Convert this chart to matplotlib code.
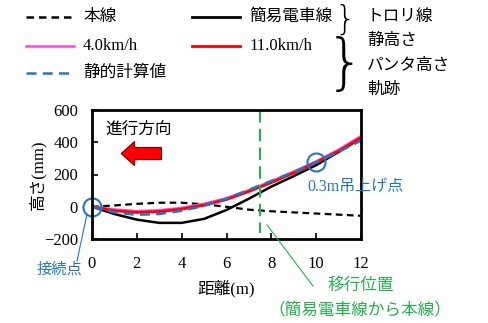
import matplotlib.pyplot as plt
from matplotlib.patches import FancyArrow

plt.rcParams['font.family'] = ['Liberation Serif', 'Noto Sans CJK JP']

dist = [0, 1, 2, 3, 4, 5, 6, 7, 8, 9, 10, 11, 12]
honsen = [0, 8, 18, 25, 25, 15, 0, -18, -28, -35, -42, -49, -56]
kani = [0, -45, -80, -100, -100, -75, -20, 50, 125, 190, 258, 340, 425]
v4 = [0, -20, -30, -25, -10, 15, 50, 100, 155, 215, 278, 350, 435]
v11 = [0, -25, -35, -30, -15, 10, 45, 95, 150, 210, 275, 345, 428]
static = [0, -35, -50, -45, -25, 5, 50, 105, 160, 215, 275, 340, 410]
shift_x = 7.5
lift_i = 10

fig = plt.figure(figsize=(4.89, 3.23), dpi=100)
ax = fig.add_axes([92 / 489, 1 - 239 / 323, 269 / 489, 129 / 323])

ax.plot(dist, honsen, color='black', ls=(0, (3, 2)), lw=1.6)
ax.plot(dist, kani, color='black', lw=1.8)
ax.plot(dist, v4, color='#ff44dd', lw=2.5)
ax.plot(dist, v11, color='red', lw=2.0)
ax.plot(dist, static, color='#1f77c4', ls=(0, (4, 2.5)), lw=1.8)

ax.set_xlim(0, 12)
ax.set_ylim(-200, 600)
ax.set_xticks(range(0, 13, 2))
ax.set_yticks(range(-200, 601, 200))
ax.tick_params(direction='in', length=4, width=1.2, labelsize=12)
ax.tick_params(axis='x', pad=12)
ax.tick_params(axis='y', pad=10)
for s in ax.spines.values():
    s.set_linewidth(2)
ax.set_xlabel('距離(m)', fontsize=12, labelpad=6)
ax.set_ylabel('高さ(mm)', fontsize=12, labelpad=-2)

# migration position
ax.plot([shift_x, shift_x], [600, -160], color='#22b14c', ls=(0, (6, 3)), lw=1.5, clip_on=False)
fig.add_artist(plt.Line2D([267 / 489, 313 / 489], [1 - 225 / 323, 1 - 286 / 323], color='#22b14c', lw=0.8))
fig.text(361 / 489, 1 - 286 / 323, '移行位置', color='#22b14c', fontsize=12, ha='center', va='center')
fig.text(360 / 489, 1 - 310 / 323, '（簡易電車線から本線）', color='#22b14c', fontsize=12, ha='center', va='center')

# circles
ax.plot([dist[0], dist[lift_i]], [v11[0], v11[lift_i]], ls='none', marker='o', ms=13, mfc='none',
        mec='#1f77c4', mew=1.5, clip_on=False)
fig.text(356 / 489, 1 - 187 / 323, '0.3m吊上げ点', color='#1f77c4', fontsize=11.5, ha='center', va='center')
fig.add_artist(plt.Line2D([87 / 489, 77 / 489], [1 - 214 / 323, 1 - 261 / 323], color='#1f77c4', lw=0.8))
fig.text(59 / 489, 1 - 269 / 323, '接続点', color='#1f77c4', fontsize=11, ha='center', va='center')

# direction arrow
ax.text(0.6, 480, '進行方向', fontsize=12, va='center')
ax.add_patch(FancyArrow(3.1, 330, -1.8, 0, width=75, head_width=150, head_length=0.6,
                        length_includes_head=True, fc='red', ec='#800000', lw=0.8))

# legend
def leg(x0, y0, color, ls, label, lw=1.8):
    fig.add_artist(plt.Line2D([x0 / 489, (x0 + 48) / 489], [1 - y0 / 323] * 2, color=color, ls=ls, lw=lw))
    fig.text((x0 + 57) / 489, 1 - y0 / 323, label, fontsize=12, va='center')

leg(26, 17, 'black', (0, (3, 2)), '本線')
leg(192, 17, 'black', '-', '簡易電車線', 2)
leg(26, 46, '#ff44dd', '-', '4.0km/h')
leg(192, 46, 'red', '-', '11.0km/h', 2)
leg(26, 73, '#1f77c4', (0, (4, 2.5)), '静的計算値')

fig.text(345 / 489, 1 - 20 / 323, '}', fontsize=24, va='center', ha='center', family='DejaVu Sans', fontweight='light')
fig.text(345 / 489, 1 - 66 / 323, '}', fontsize=44, va='center', ha='center', family='DejaVu Sans', fontweight='light')
for y, t in [(17, 'トロリ線'), (41, '静高さ'), (66, 'パンタ高さ'), (90, '軌跡')]:
    fig.text(367 / 489, 1 - y / 323, t, fontsize=12, va='center')

fig.savefig('out.png', dpi=100)
